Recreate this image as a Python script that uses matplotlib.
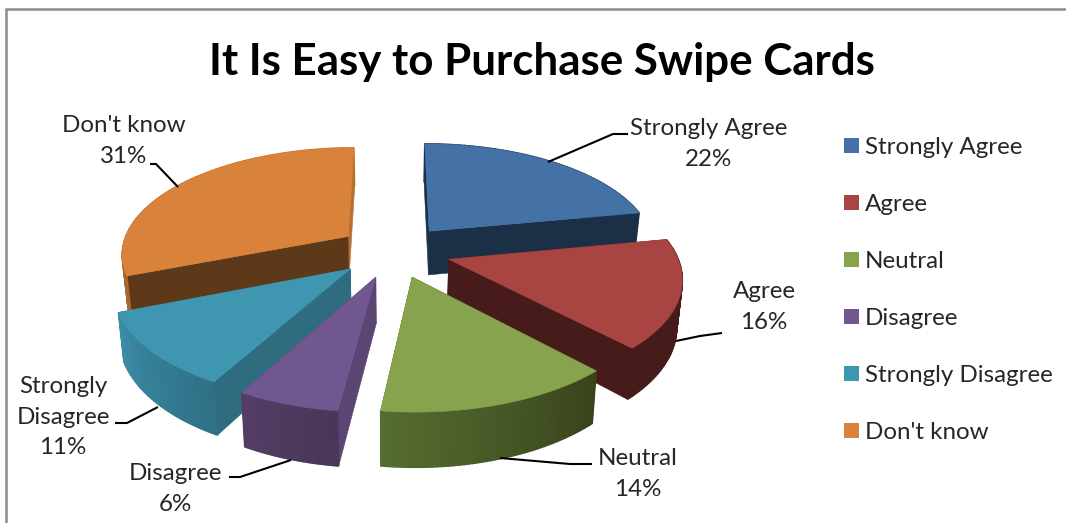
import numpy as np
import matplotlib
matplotlib.use("Agg")
import matplotlib.pyplot as plt
from matplotlib.patches import Polygon, Patch
from matplotlib.colors import to_rgb

plt.rcParams['font.family'] = ['Lato', 'DejaVu Sans']

# ---- data ----
categories = ["Strongly Agree", "Agree", "Neutral", "Disagree", "Strongly Disagree", "Don't know"]
values = [22, 16, 14, 6, 11, 31]
title = "It Is Easy to Purchase Swipe Cards"
wrapped_names = ["Strongly Agree", "Agree", "Neutral", "Disagree", "Strongly\nDisagree", "Don't know"]

# ---- styles ----
top_colors = ["#4471A6", "#A84442", "#87A34D", "#70578F", "#3F96B0", "#D9823B"]
radial_start = ["#1B2F47", "#471B1A", "#3A451D", "#5A4573", "#2F6C80", "#5E3919"]
radial_end = ["#1B2F47", "#471B1A", "#3A451D", "#5A4573", "#2F6C80", "#B87030"]
arc_start = ["#1B2F47", "#471B1A", "#38431C", "#493659", "#2F7086", "#A9662E"]
arc_end = ["#1B2F47", "#471B1A", "#566C30", "#533D65", "#3C8EA7", "#C57735"]
label_xy = [(709, 143), (764, 306), (638, 473), (175, 488), (63, 416), (124, 140)]
leaders = [
    [(548, 162), (613, 134), (628, 134)],
    [(676, 341), (700, 336), (722, 333)],
    [(500, 458), (570, 464), (592, 464)],
    [(291, 460), (240, 477), (229, 477)],
    [(158, 407), (127, 423), (115, 423)],
    [(178, 187), (156, 164), (150, 164)],
]
draw_order = [5, 0, 1, 4, 3, 2]

# projection parameters (perspective tilted pie)
X0, Y0, A, B, P, E, H, Q = 394.0, 251.0, 227.0, 106.0, 0.15, 0.25, 45.0, 0.02


def project(u, v, bottom=False):
    u, v = np.asarray(u, float), np.asarray(v, float)
    w = 1 + P * v
    if bottom:
        return X0 + A * u / (w * (1 + Q)), Y0 - B * v / w + H / w
    return X0 + A * u / w, Y0 - B * v / w


def quad(ax, u0, v0, u1, v1, color, z, lw=0.4):
    x0, y0 = project(u0, v0)
    x1, y1 = project(u1, v1)
    x2, y2 = project(u1, v1, True)
    x3, y3 = project(u0, v0, True)
    ax.add_patch(Polygon([(x0, y0), (x1, y1), (x2, y2), (x3, y3)], closed=True,
                         facecolor=color, edgecolor=color, linewidth=lw, zorder=z))


fig = plt.figure(figsize=(10.66, 5.23), dpi=100)
ax = fig.add_axes([0, 0, 1, 1])
ax.set_xlim(0, 1066)
ax.set_ylim(523, 0)
ax.axis('off')

# chart frame
ax.plot([6, 6, 1066], [523, 9, 9], color="#8C8C8C", lw=1.8, zorder=1, solid_joinstyle='miter')

vals = np.array(values, float)
edges = np.concatenate([[0], np.cumsum(vals)]) / vals.sum() * 2 * np.pi

z = 10
for i in draw_order:
    a0, a1 = edges[i], edges[i + 1]
    mid = (a0 + a1) / 2
    ou, ov = E * np.sin(mid), E * np.cos(mid)
    th = np.linspace(a0, a1, 61)
    au, av = ou + np.sin(th), ov + np.cos(th)

    walls = [
        (ov + np.cos(a0) / 2, 'r0'),
        (ov + np.cos(a1) / 2, 'r1'),
    ]
    segs = [(av[k:k + 2].mean(), k) for k in range(60)]
    items = sorted(walls + segs, key=lambda t: -t[0])
    c0, c1 = np.array(to_rgb(arc_start[i])), np.array(to_rgb(arc_end[i]))
    for _, key in items:
        z += 0.01
        if key == 'r0':
            quad(ax, ou, ov, au[0], av[0], radial_start[i], z)
        elif key == 'r1':
            quad(ax, ou, ov, au[-1], av[-1], radial_end[i], z)
        else:
            col = c0 + (c1 - c0) * (key / 59)
            quad(ax, au[key], av[key], au[key + 1], av[key + 1], col, z, lw=1.0)
    tx, ty = project(np.r_[ou, au], np.r_[ov, av])
    z += 0.01
    ax.add_patch(Polygon(np.c_[tx, ty], closed=True, facecolor=top_colors[i],
                         edgecolor=top_colors[i], linewidth=0.4, zorder=z))

# data labels and leader lines
for name, val, (lx, ly), pts in zip(wrapped_names, values, label_xy, leaders):
    ax.text(lx, ly + 1, f"{name}\n{val}%", ha='center', va='center', fontsize=17.4,
            color="#262626", linespacing=1.58, zorder=50)
    xs, ys = zip(*pts)
    ax.plot(xs, ys, color="black", lw=1.5, zorder=49, solid_capstyle='butt')

# title
ax.text(542, 62, title, ha='center', va='center', fontsize=31.6, fontweight='bold',
        color="black", zorder=50)

# legend
handles = [Patch(facecolor=c, edgecolor='none', label=n) for c, n in zip(top_colors, categories)]
ax.legend(handles=handles, loc='upper left', bbox_to_anchor=(844 / 1066, 1 - 137 / 523),
          bbox_transform=fig.transFigure, frameon=False, fontsize=17.4, ncol=1,
          handlelength=0.62, handleheight=0.62, handletextpad=0.25, labelspacing=1.49,
          borderaxespad=0, borderpad=0, labelcolor="#262626")

fig.savefig("out.png", dpi=100)
